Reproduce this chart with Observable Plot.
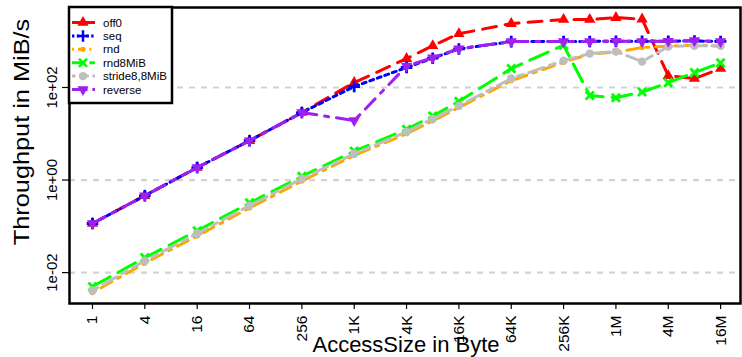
<!DOCTYPE html>
<html><head><meta charset="utf-8">
<script src="https://cdn.jsdelivr.net/npm/d3@7"></script>
<script src="https://cdn.jsdelivr.net/npm/@observablehq/plot@0.6"></script>
<style>
body{margin:0;background:#fff;}
#wrap{position:relative;width:742px;height:357px;font-family:"Liberation Sans",Arial,Helvetica,sans-serif;}
#wrap svg{display:block;}
.ttl{position:absolute;font-size:22px;color:#000;white-space:nowrap;line-height:1;}
#overlay{position:absolute;left:0;top:0;}
</style>
</head><body>
<div id="wrap"></div>
<script>
// ---- data ----
const sizes = [1, 4, 16, 64, 256, 1024, 4096, 8192, 16384, 65536, 262144, 524288, 1048576, 2097152, 4194304, 8388608, 16777216];
const off0     = [0.115, 0.46, 1.86, 7.1, 28.7, 128, 420, 800, 1450, 2400, 2930, 2930, 3230, 3000, 180, 156, 256];
const seq      = [0.115, 0.46, 1.86, 7.1, 28.7, 105, 270, 430, 680, 980, 990, 990, 1000, 1000, 1000, 1010, 990];
const rnd      = [0.0037, 0.016, 0.062, 0.25, 0.95, 3.4, 10, 19, 37, 140, 350, 530, 580, 730, 780, 820, 780];
const rnd8MiB  = [0.005, 0.021, 0.08, 0.32, 1.2, 4.2, 12.5, 24, 50, 256, 820, 67, 60, 80, 127, 210, 340];
const stride   = [0.0041, 0.018, 0.07, 0.28, 1.07, 3.7, 11, 21, 40, 156, 380, 540, 600, 363, 764, 800, 800];
const reverse  = [0.115, 0.46, 1.86, 7.1, 28.7, 19.3, 290, 440, 690, 980, 980, 990, 1000, 990, 1000, 1030, 980];

const seriesNames = ["off0", "seq", "rnd", "rnd8MiB", "stride8,8MiB", "reverse"];
const seriesValues = [off0, seq, rnd, rnd8MiB, stride, reverse];
const seriesColors = ["#ff0000", "#0000ff", "#ffa500", "#00ff00", "#bebebe", "#a020f0"];
const seriesDash = ["14,9", "4,4", "3,7,12,7", "20,9", "6,6,16,6", "14,8,4,8"];

const xTicks = [1, 4, 16, 64, 256, 1024, 4096, 16384, 65536, 262144, 1048576, 4194304, 16777216];
const xTickLabels = ["1", "4", "16", "64", "256", "1K", "4K", "16K", "64K", "256K", "1M", "4M", "16M"];
const yTicks = [0.01, 1, 100];
const yTickLabels = ["1e-02", "1e+00", "1e+02"];

// ---- symbols ----
const sqrt3 = Math.sqrt(3);
const triangleDown = {draw(ctx, size){ const y = -Math.sqrt(size / (sqrt3 * 3)); ctx.moveTo(0, -y*2); ctx.lineTo(-sqrt3*y, y); ctx.lineTo(sqrt3*y, y); ctx.closePath(); }};
const symbolSpec = [
  {symbol: "triangle", r: 4.2, filled: true},
  {symbol: "plus", r: 3.8, filled: false},
  {symbol: "circle", r: 2.6, filled: true},
  {symbol: "times", r: 3.8, filled: false},
  {symbol: "circle", r: 4.2, filled: true},
  {symbol: triangleDown, r: 4.2, filled: true}
];

const tables = seriesValues.map(vals => sizes.map((s, i) => ({size: s, value: vals[i]})));

const marks = [
  Plot.ruleY(yTicks, {stroke: "#d3d3d3", strokeWidth: 2.2, strokeDasharray: "6,6"})
];
tables.forEach((t, k) => {
  marks.push(Plot.line(t, {x: "size", y: "value", stroke: seriesColors[k], strokeWidth: 3, strokeDasharray: seriesDash[k]}));
  const sp = symbolSpec[k];
  marks.push(Plot.dot(t, {x: "size", y: "value", symbol: sp.symbol, r: sp.r,
    fill: sp.filled ? seriesColors[k] : "none", stroke: sp.filled ? "none" : seriesColors[k], strokeWidth: 2.8}));
});
marks.push(Plot.frame({stroke: "black", strokeWidth: 2.5}));
marks.push(Plot.axisX({ticks: xTicks, tickFormat: d => xTickLabels[xTicks.indexOf(d)], tickRotate: -90, tickSize: 6, tickPadding: 6, fontSize: 15.5, label: null, strokeWidth: 1.2}));
marks.push(Plot.axisY({ticks: yTicks, tickFormat: d => yTickLabels[yTicks.indexOf(d)], tickRotate: -90, tickSize: 7, tickPadding: 6, fontSize: 15, label: null, strokeWidth: 1.2}));

const chart = Plot.plot({
  width: 742, height: 357,
  marginLeft: 69, marginRight: 2, marginTop: 7, marginBottom: 54,
  style: {fontFamily: '"Liberation Sans", Arial, Helvetica, sans-serif', color: "#000", background: "#fff"},
  x: {type: "log", base: 2, domain: [0.544, Math.pow(2, 24.76)]},
  y: {type: "log", domain: [0.00215, 5350]},
  marks
});
const wrap = document.getElementById("wrap");
wrap.appendChild(chart);

// titles
const xt = document.createElement("div");
xt.className = "ttl"; xt.textContent = "AccessSize in Byte";
xt.style.left = "406px"; xt.style.top = "334px"; xt.style.transform = "translateX(-50%)";
wrap.appendChild(xt);
const yt = document.createElement("div");
yt.className = "ttl"; yt.textContent = "Throughput in MiB/s";
yt.style.left = "22px"; yt.style.top = "132px"; yt.style.transform = "translate(-50%,-50%) rotate(-90deg) scaleX(1.15)";
wrap.appendChild(yt);

// legend
const ov = d3.select(wrap).append("svg").attr("id", "overlay").attr("width", 742).attr("height", 357);
const lg = ov.append("g");
lg.append("rect").attr("x", 69).attr("y", 7).attr("width", 103).attr("height", 96).attr("fill", "#fff").attr("stroke", "#000").attr("stroke-width", 2.5);
seriesNames.forEach((name, k) => {
  const y = 22.5 + k * 13.4;
  lg.append("line").attr("x1", 72).attr("x2", 95).attr("y1", y).attr("y2", y)
    .attr("stroke", seriesColors[k]).attr("stroke-width", 3).attr("stroke-dasharray", k === 0 ? null : seriesDash[k].split(",").map(v => v*0.6).join(","));
  const sp = symbolSpec[k];
  const symType = typeof sp.symbol === "string" ? {triangle: d3.symbolTriangle, plus: d3.symbolPlus, circle: d3.symbolCircle, times: d3.symbolTimes}[sp.symbol] : sp.symbol;
  lg.append("path").attr("transform", `translate(83,${y})`).attr("d", d3.symbol(symType, Math.PI * sp.r * sp.r)())
    .attr("fill", sp.filled ? seriesColors[k] : "none").attr("stroke", sp.filled ? "none" : seriesColors[k]).attr("stroke-width", 2.5);
  lg.append("text").attr("x", 103).attr("y", y).attr("dy", "0.35em").attr("font-size", 11.5)
    .attr("font-family", '"Liberation Sans", Arial, sans-serif').text(name);
});
</script>
</body></html>
